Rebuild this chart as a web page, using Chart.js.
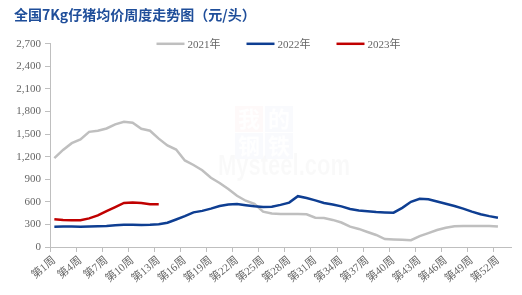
<!DOCTYPE html>
<html>
<head>
<meta charset="utf-8">
<script src="https://cdn.jsdelivr.net/npm/chart.js@4.4.1/dist/chart.umd.min.js"></script>
<style>
  html, body { margin: 0; padding: 0; background: #fff; }
  canvas { display: block; }
</style>
</head>
<body>
<canvas id="chart" width="522" height="295"></canvas>
<script>
// week labels 第1周 .. 第53周 (axis runs one slot past the last data week)
const weeks = Array.from({ length: 53 }, (_, i) => '第' + (i + 1) + '周');
const years = ['2021年', '2022年', '2023年'];

// 元/头
const price2021 = [
  1180, 1290, 1380, 1430, 1530, 1545, 1575, 1630, 1665, 1650,
  1570, 1545, 1440, 1350, 1295, 1150, 1090, 1020, 920, 850,
  770, 680, 615, 575, 470, 445, 440, 440, 440, 435,
  390, 385, 360, 325, 270, 240, 200, 160, 105, 100,
  95, 90, 145, 185, 225, 255, 275, 280, 280, 280,
  280, 272
];
const price2022 = [
  270, 272, 272, 270, 272, 275, 280, 290, 295, 297,
  293, 295, 302, 322, 365, 410, 460, 480, 510, 545,
  565, 570, 555, 540, 530, 535, 560, 590, 675, 650,
  620, 585, 565, 540, 505, 485, 475, 465, 460, 456,
  520, 600, 640, 635, 605, 575, 545, 510, 470, 435,
  410, 390
];
const price2023 = [370, 360, 355, 355, 380, 420, 478, 530, 585, 590, 585, 568, 568];

const lineColors = ['#BFBFBF', '#0E3E92', '#C00000'];
const axisColor = '#BFBFBF';
const textColor = '#666666';
const serif = "'Liberation Serif', 'Noto Sans CJK SC', serif";

// legend sits on the top edge of the plot, so draw it by hand
const topLegend = {
  id: 'topLegend',
  afterDraw(chart) {
    const ctx = chart.ctx;
    const area = chart.chartArea;
    ctx.save();
    ctx.font = '11px ' + serif;
    const items = chart.data.datasets.map(ds => ({
      label: ds.label, color: ds.borderColor, w: ctx.measureText(ds.label).width
    }));
    const total = items.reduce((s, it) => s + 31 + it.w, 0) + 26 * (items.length - 1);
    let x = (area.left + area.right) / 2 - total / 2 - 2;
    const y = area.top;
    items.forEach(it => {
      ctx.strokeStyle = it.color;
      ctx.lineWidth = 2.5;
      ctx.beginPath();
      ctx.moveTo(x, y);
      ctx.lineTo(x + 28, y);
      ctx.stroke();
      ctx.fillStyle = textColor;
      ctx.textBaseline = 'middle';
      ctx.fillText(it.label, x + 31, y + 1);
      x += 31 + it.w + 26;
    });
    ctx.restore();
  }
};

// faint Mysteel watermark behind the lines
const watermark = {
  id: 'watermark',
  beforeDatasetsDraw(chart) {
    const ctx = chart.ctx;
    ctx.save();
    const boxes = [
      ['我', 235, 106, 'rgba(230,80,80,0.035)'],
      ['的', 265, 106, 'rgba(70,100,190,0.03)'],
      ['钢', 235, 133, 'rgba(70,100,190,0.03)'],
      ['铁', 265, 133, 'rgba(70,100,190,0.03)']
    ];
    ctx.font = "bold 22px 'Noto Sans CJK SC'";
    ctx.textAlign = 'center';
    ctx.textBaseline = 'middle';
    boxes.forEach(b => {
      ctx.fillStyle = b[3];
      ctx.fillRect(b[1], b[2], 28, 26);
      ctx.fillStyle = 'rgba(255,255,255,0.9)';
      ctx.fillText(b[0], b[1] + 14, b[2] + 13);
    });
    ctx.font = "bold 30px 'Liberation Sans'";
    ctx.textAlign = 'left';
    ctx.textBaseline = 'alphabetic';
    ctx.fillStyle = 'rgba(0,0,0,0.025)';
    ctx.fillText('Mysteel.com', 218, 175, 132);
    ctx.restore();
  }
};

const ctx = document.getElementById('chart').getContext('2d');
const chart = new Chart(ctx, {
  type: 'line',
  data: {
    labels: weeks,
    datasets: [
      { label: years[0], data: price2021, borderColor: lineColors[0], order: 3 },
      { label: years[1], data: price2022, borderColor: lineColors[1], order: 2 },
      { label: years[2], data: price2023, borderColor: lineColors[2], order: 1 }
    ]
  },
  options: {
    responsive: false,
    animation: false,
    locale: 'en-US',
    elements: {
      line: { borderWidth: 2.5, tension: 0, fill: false },
      point: { radius: 0, hoverRadius: 0 }
    },
    layout: { padding: { left: 14, right: 11, top: 0, bottom: 0 } },
    plugins: {
      legend: { display: false },
      tooltip: { enabled: false },
      title: {
        display: true,
        text: '全国7Kg仔猪均价周度走势图（元/头）',
        align: 'start',
        color: '#1F4E9A',
        font: { family: "'Noto Sans CJK SC'", size: 14, weight: 'bold' },
        padding: { top: 6, bottom: 21 }
      }
    },
    scales: {
      x: {
        offset: true,
        afterFit: s => { s.height = 48; },
        border: { color: axisColor, width: 1 },
        grid: {
          offset: true,
          drawOnChartArea: false,
          tickLength: 5,
          color: c => (c.index % 3 === 0 ? axisColor : 'rgba(0,0,0,0)')
        },
        ticks: {
          autoSkip: false,
          minRotation: 40,
          maxRotation: 40,
          padding: 2,
          color: textColor,
          font: { family: serif, size: 11 },
          callback: (v, i) => (i % 3 === 0 ? weeks[i] : '')
        }
      },
      y: {
        min: 0,
        max: 2700,
        afterFit: s => { s.width = 36; },
        border: { color: axisColor, width: 1 },
        grid: { drawOnChartArea: false, tickLength: 5, color: axisColor },
        ticks: {
          stepSize: 300,
          padding: 4,
          color: textColor,
          font: { family: serif, size: 11 }
        }
      }
    }
  },
  plugins: [watermark, topLegend]
});
</script>
</body>
</html>
